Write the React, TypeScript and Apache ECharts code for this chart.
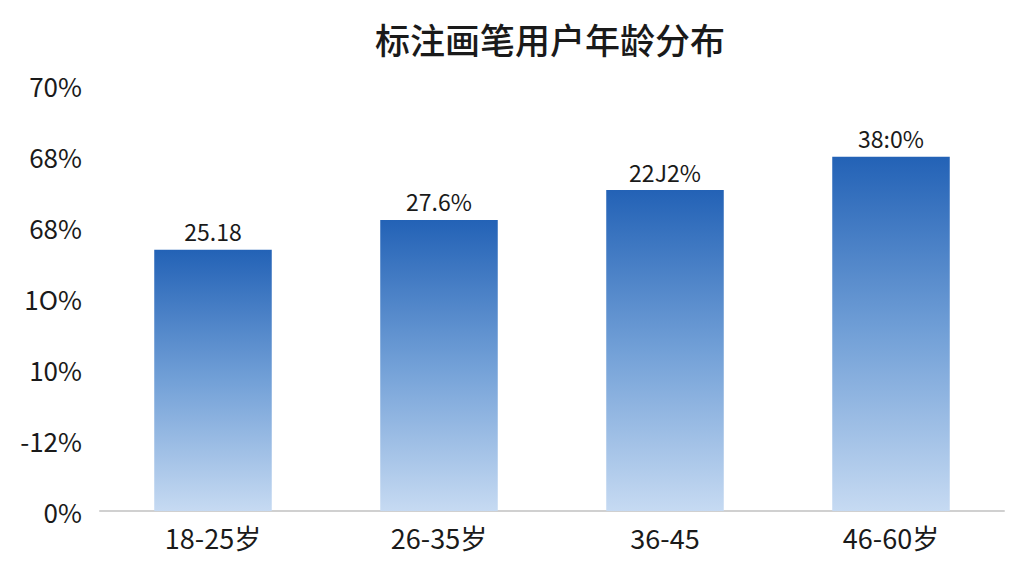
import React, { useRef, useEffect } from "react";
import * as echarts from "echarts";

const categories = ["18-25岁", "26-35岁", "36-45", "46-60岁"];
// tick labels as printed on the picture, bottom to top
const tickLabels = ["0%", "-12%", "10%", "1O%", "68%", "68%", "70%"];
// bar heights in tick steps (one step per label above)
const barValues = [3.68, 4.1, 4.52, 4.99];
const barLabels = ["25.18", "27.6%", "22J2%", "38:0%"];

const FONT = "'Noto Sans CJK SC', 'Noto Sans', sans-serif";

const App = function () {
  const chart = useRef<HTMLDivElement>(null);
  useEffect(() => {
    if (!chart.current) return;
    const myChart = echarts.init(chart.current, undefined, { renderer: "svg" });
    const option = {
      animation: false,
      backgroundColor: "#fff",
      title: {
        text: "标注画笔用户年龄分布",
        left: 545,
        textAlign: "center",
        top: 16,
        textStyle: {
          color: "#1a1a1a",
          fontSize: 35,
          fontWeight: 500,
          fontFamily: FONT,
        },
      },
      grid: {
        left: 100,
        right: 20,
        top: 85,
        bottom: 65,
        containLabel: false,
      },
      xAxis: {
        type: "category",
        data: categories,
        axisLine: { lineStyle: { color: "#d0d0d0", width: 2 } },
        axisTick: { show: false },
        axisLabel: {
          color: "#1a1a1a",
          fontSize: 27,
          fontFamily: FONT,
          margin: 13,
        },
      },
      yAxis: {
        type: "value",
        min: 0,
        max: tickLabels.length - 1,
        interval: 1,
        axisLine: { show: false },
        axisTick: { show: false },
        splitLine: { show: false },
        axisLabel: {
          color: "#1a1a1a",
          fontSize: 26,
          fontFamily: FONT,
          margin: 18,
          formatter: (v: number) => tickLabels[Math.round(v)] ?? "",
        },
      },
      series: [
        {
          type: "bar",
          data: barValues,
          barWidth: "52%",
          itemStyle: {
            color: new echarts.graphic.LinearGradient(0, 0, 0, 1, [
              { offset: 0, color: "#2362b6" },
              { offset: 0.5, color: "#72a0d7" },
              { offset: 1, color: "#c6daf2" },
            ]),
          },
          label: {
            show: true,
            position: "top",
            distance: 7,
            color: "#1a1a1a",
            fontSize: 23,
            fontFamily: FONT,
            formatter: (p: any) => barLabels[p.dataIndex],
          },
        },
      ],
    };
    myChart.setOption(option);
    return () => {
      myChart.dispose();
    };
  }, []);
  return (
    <div
      ref={chart}
      style={{ position: "absolute", left: 0, top: 0, width: 1024, height: 576 }}
    ></div>
  );
};

export default App;
